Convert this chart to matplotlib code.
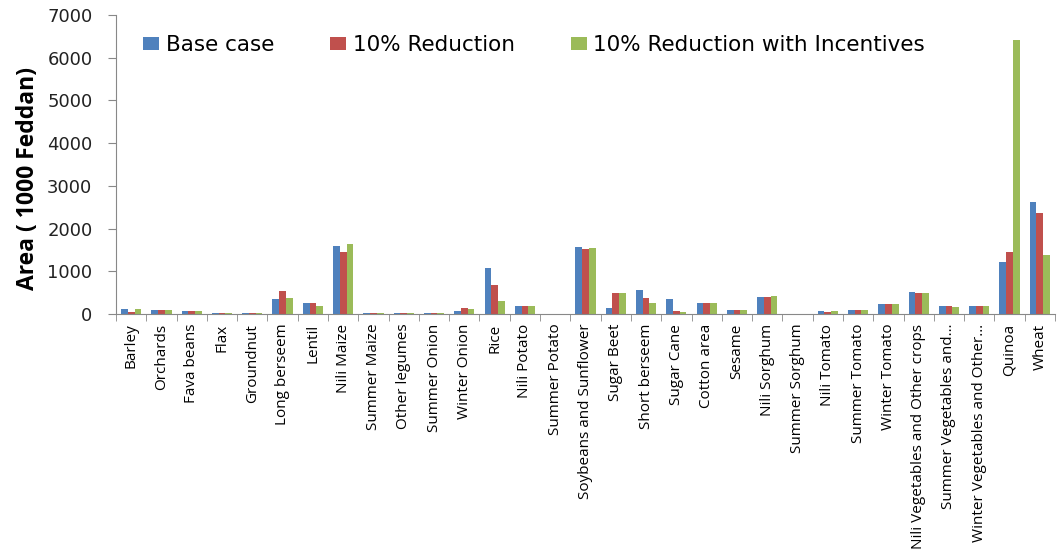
import matplotlib
matplotlib.use("Agg")
import matplotlib.pyplot as plt
import numpy as np

crops = ["Barley", "Orchards", "Fava beans", "Flax", "Groundnut", "Long berseem",
         "Lentil", "Nili Maize", "Summer Maize", "Other legumes", "Summer Onion",
         "Winter Onion", "Rice", "Nili Potato", "Summer Potato",
         "Soybeans and Sunflower", "Sugar Beet", "Short berseem", "Sugar Cane",
         "Cotton area", "Sesame", "Nili Sorghum", "Summer Sorghum", "Nili Tomato",
         "Summer Tomato", "Winter Tomato", "Nili Vegetables and Other crops",
         "Summer Vegetables and\u2026", "Winter Vegetables and Other\u2026",
         "Quinoa", "Wheat"]

base_case = [125, 100, 65, 15, 15, 345, 265, 1600, 15, 15, 15, 70, 1085, 185, 0,
             1570, 140, 560, 345, 265, 85, 400, 0, 70, 85, 240, 520, 185, 185,
             1220, 2630]
reduction_10 = [55, 100, 65, 15, 15, 545, 265, 1445, 15, 15, 15, 140, 690, 185, 0,
                1520, 485, 385, 70, 265, 85, 400, 0, 45, 85, 240, 500, 185, 185,
                1460, 2365]
reduction_10_incentives = [125, 100, 65, 15, 15, 380, 180, 1640, 15, 15, 15, 115,
                           305, 185, 0, 1545, 485, 265, 45, 265, 85, 420, 0, 60,
                           85, 240, 485, 165, 185, 6410, 1380]

series_names = ["Base case", "10% Reduction", "10% Reduction with Incentives"]
colors = ["#4F81BD", "#C0504D", "#9BBB59"]

fig = plt.figure(figsize=(10.57, 5.53), dpi=100)
ax = fig.add_axes([116 / 1057, 1 - 314 / 553, (1055 - 116) / 1057, (314 - 15) / 553])

x = np.arange(len(crops))
w = 0.667 / 3
for i, (vals, name, c) in enumerate(zip([base_case, reduction_10, reduction_10_incentives],
                                        series_names, colors)):
    ax.bar(x + (i - 1) * w, vals, width=w, color=c, label=name)

ax.set_xlim(-0.5, len(crops) - 0.5)
ax.set_ylim(0, 7000)
ax.set_yticks(np.arange(0, 7001, 1000))
ax.set_yticklabels([str(v) for v in range(0, 7001, 1000)],
                   fontsize=13, color="#222222", family="DejaVu Sans")

ax.set_xticks(x)
ax.set_xticklabels(crops, rotation=90, ha="center", va="top", fontsize=11,
                   family=["Open Sans", "DejaVu Sans"])
ax.set_xticks(np.arange(-0.5, len(crops)), minor=True)
ax.tick_params(axis="x", which="major", length=0, pad=7)
ax.tick_params(axis="x", which="minor", length=5, color="#888888", direction="out")
ax.tick_params(axis="y", length=6, color="#888888", direction="out", pad=11)

for side in ["top", "right"]:
    ax.spines[side].set_visible(False)
for side in ["left", "bottom"]:
    ax.spines[side].set_color("#888888")
    ax.spines[side].set_linewidth(0.8)

fig.text(28 / 1057, 1 - 178 / 553, "Area ( 1000 Feddan)", rotation=90,
         ha="center", va="center", fontsize=16.5, fontweight="bold",
         family=["Open Sans", "DejaVu Sans"])

leg = fig.legend(loc="center left", bbox_to_anchor=(143 / 1057, 1 - 45 / 553),
                 ncol=3, frameon=False, handlelength=0.75, handleheight=0.6,
                 handletextpad=0.3, columnspacing=2.6, borderaxespad=0, borderpad=0,
                 prop={"family": "DejaVu Sans", "size": 15.5})

fig.savefig("out.png", dpi=100)
